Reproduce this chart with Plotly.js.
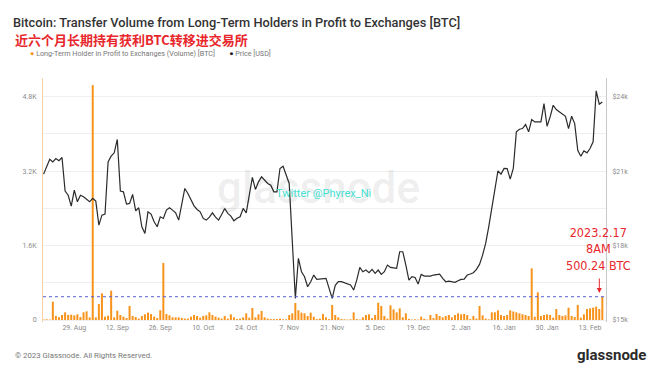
<!DOCTYPE html>
<html>
<head>
<meta charset="utf-8">
<script src="https://cdn.plot.ly/plotly-3.0.1.min.js"></script>
<style>
html,body{margin:0;padding:0;background:#fff;}
#chart{width:660px;height:372px;}
</style>
</head>
<body>
<div id="chart"></div>
<script>
// ---- data ----
var startDate = '2022-08-19';
var volumeBTC = [
 10,15,10,394,86,60,107,165,107,115,
 100,122,64,165,186,57,5050,57,344,573,
 72,93,630,57,200,107,72,43,301,86,
 64,30,86,122,158,129,72,43,210,1225,
 129,100,57,57,57,43,30,30,72,107,
 86,50,86,100,165,107,72,50,30,86,
 30,122,57,20,30,57,143,50,258,57,
 122,193,57,30,20,20,20,30,15,15,
 107,143,365,210,158,143,86,158,72,20,
 30,129,57,20,322,107,57,20,15,10,
 15,165,20,10,57,107,122,40,107,372,
 301,86,30,315,229,165,250,57,143,25,
 10,15,10,72,25,10,107,40,129,86,
 57,86,107,57,107,143,122,130,107,20,
 86,30,301,100,30,15,165,165,208,107,
 86,107,208,183,165,143,122,107,86,1110,
 70,595,86,107,122,107,50,236,107,86,
 100,265,86,65,322,50,122,236,251,265,
 287,236,500.24
];
var priceUSD = [
 20880,21200,21483,21375,21510,21420,21550,20195,20030,19590,
 20235,19765,20030,19966,19850,19765,19900,19792,18826,19228,
 19268,21375,21604,21740,22277,20195,20168,19671,19698,20060,
 19402,19523,18757,18490,19362,19268,18960,18757,19160,19094,
 19430,19523,19430,19322,19027,19600,20302,20101,19832,19600,
 19457,19362,19094,19027,19150,19322,19150,19027,19250,19497,
 19300,19188,19000,19100,19160,19497,19322,20000,20746,20263,
 20570,20771,20650,20505,20436,20168,20168,21108,21201,20867,
 20505,18200,15873,17483,16945,16745,16342,16543,16812,16637,
 16650,16650,16677,16275,15873,16400,16543,16543,16500,16476,
 16409,16207,16610,17121,16945,17013,16906,17040,16878,17013,
 16838,16945,17214,17121,17100,17080,17752,17752,17214,16610,
 16745,16717,16449,16838,16771,16780,16771,16812,16830,16852,
 16677,16543,16570,16540,16516,16583,16637,16650,16812,16852,
 16906,17040,17241,17617,18087,18757,19563,20369,21013,20880,
 21108,21100,20678,21108,22584,22691,22718,22879,22584,23080,
 22986,22986,22986,23724,22812,23187,23657,23482,23389,23300,
 23214,22718,23214,22919,21845,21604,21819,21738,21912,22181,
 24235,23698,23792
];
var xTickVals = ['2022-08-29','2022-09-12','2022-09-26','2022-10-10','2022-10-24','2022-11-07','2022-11-21','2022-12-05','2022-12-19','2023-01-02','2023-01-16','2023-01-30','2023-02-13'];
var xTickText = ['29. Aug','12. Sep','26. Sep','10. Oct','24. Oct','7. Nov','21. Nov','5. Dec','19. Dec','2. Jan','16. Jan','30. Jan','13. Feb'];
var yTickVals = [0,1600,3200,4800];
var yTickText = ['0','1.6K','3.2K','4.8K'];
var y2TickVals = [15000,18000,21000,24000];
var y2TickText = ['$15k','$18k','$21k','$24k'];
var lastDate = '2023-02-17';
var lastValue = 500.24;

// dates
var dates = [];
(function(){
  var t0 = Date.parse(startDate + 'T00:00:00Z');
  for (var i = 0; i < volumeBTC.length; i++) {
    dates.push(new Date(t0 + i*86400000).toISOString().slice(0,10));
  }
})();

var ORANGE = '#f7931a';
var tickFont = {family:'Roboto, "Open Sans", sans-serif', size:7, color:'#8a8a8a'};

var traces = [
  {type:'bar', x:dates, y:volumeBTC, marker:{color:ORANGE, line:{width:0}}, yaxis:'y', showlegend:false, hoverinfo:'skip'},
  {type:'scatter', mode:'lines', x:dates, y:priceUSD, yaxis:'y2', line:{color:'#2b2b2b', width:1.2}, showlegend:false, hoverinfo:'skip'}
];

var y1min = -43, y1max = 5203;
var layout = {
  width:660, height:372,
  margin:{l:43, r:54, t:78, b:50},
  paper_bgcolor:'#fff', plot_bgcolor:'#fff',
  bargap:0.35,
  showlegend:false,
  title:{text:'Bitcoin: Transfer Volume from Long-Term Holders in Profit to Exchanges [BTC]',
         font:{family:'Roboto, "Open Sans", sans-serif', size:12.8, color:'#333', weight:500},
         xref:'container', yref:'container', x:13/660, xanchor:'left', y:1-23/372, yanchor:'middle'},
  xaxis:{type:'date', range:['2022-08-18T19:12:00','2023-02-18T04:48:00'],
         tickmode:'array', tickvals:xTickVals, ticktext:xTickText,
         showgrid:false, zeroline:false, showline:false, ticks:'', tickfont:tickFont},
  yaxis:{range:[y1min,y1max], tickmode:'array', tickvals:yTickVals, ticktext:yTickText,
         showgrid:true, gridcolor:'#efefef', gridwidth:1, zeroline:false,
         minor:{tickmode:'linear', tick0:0, dtick:800, showgrid:true, gridcolor:'#efefef', gridwidth:1},
         showline:true, linecolor:'#f8d2a0', linewidth:1, ticks:'', ticklabelstandoff:4, tickfont:tickFont},
  yaxis2:{overlaying:'y', side:'right', range:[15000+y1min*1.875, 15000+y1max*1.875],
          tickmode:'array', tickvals:y2TickVals, ticktext:y2TickText,
          showgrid:false, zeroline:false, showline:true, linecolor:'#c8c8c8', linewidth:1,
          ticks:'', ticklabelstandoff:4, tickfont:tickFont},
  shapes:[
    {type:'line', xref:'paper', x0:0, x1:1, yref:'y', y0:lastValue, y1:lastValue,
     line:{color:'#5a5fd6', width:1, dash:'dot'}}
  ],
  annotations:[
    {xref:'paper', yref:'paper', x:(13-43)/563, y:(322-40)/244, xanchor:'left', yanchor:'middle', showarrow:false,
     text:'近六个月长期持有获利BTC转移进交易所', font:{family:'"Noto Sans CJK SC", sans-serif', size:13, color:'#e8262b', weight:700}},
    {xref:'paper', yref:'paper', x:(28-43)/563, y:(322-54)/244, xanchor:'left', yanchor:'middle', showarrow:false,
     text:'<span style="color:'+ORANGE+'">●</span> Long-Term Holder in Profit to Exchanges (Volume) [BTC]        <span style="color:#222">●</span> Price [USD]',
     font:{family:'Roboto, "Open Sans", sans-serif', size:7.2, color:'#777'}},
    {xref:'paper', yref:'paper', x:(318-43)/563, y:(322-188)/244, xanchor:'center', yanchor:'middle', showarrow:false,
     text:'glassnode', font:{family:'Roboto, "Open Sans", sans-serif', size:44, color:'rgba(0,0,0,0.085)', weight:500}},
    {xref:'paper', yref:'paper', x:(323-43)/563, y:(322-193)/244, xanchor:'center', yanchor:'middle', showarrow:false,
     text:'Twitter @Phyrex_Ni', font:{family:'Roboto, "Open Sans", sans-serif', size:11, color:'#45e0d2'}},
    {xref:'x', yref:'paper', x:lastDate, xshift:-4, y:(322-249)/244, xanchor:'center', yanchor:'middle', showarrow:false,
     text:'2023.2.17<br>8AM<br>'+lastValue+' BTC', align:'center',
     font:{family:'"Liberation Sans Narrow", "DejaVu Sans Condensed", sans-serif', size:12.5, color:'#e8262b'}},
    {xref:'x', yref:'paper', x:lastDate, xshift:-3, y:(322-293)/244, ax:0, ay:-16, axref:'pixel', ayref:'pixel',
     showarrow:true, arrowhead:2, arrowsize:1, arrowwidth:1, arrowcolor:'#e8262b', text:''},
    {xref:'paper', yref:'paper', x:(13-43)/563, y:(322-355)/244, xanchor:'left', yanchor:'middle', showarrow:false,
     text:'© 2023 Glassnode. All Rights Reserved.', font:{family:'Roboto, "Open Sans", sans-serif', size:7.8, color:'#777'}},
    {xref:'paper', yref:'paper', x:(648-43)/563, y:(322-355)/244, xanchor:'right', yanchor:'middle', showarrow:false,
     text:'glassnode', font:{family:'Roboto, "Open Sans", sans-serif', size:15, color:'#2a2a2a', weight:700}}
  ]
};

Plotly.newPlot('chart', traces, layout, {displayModeBar:false, staticPlot:true});
</script>
</body>
</html>
